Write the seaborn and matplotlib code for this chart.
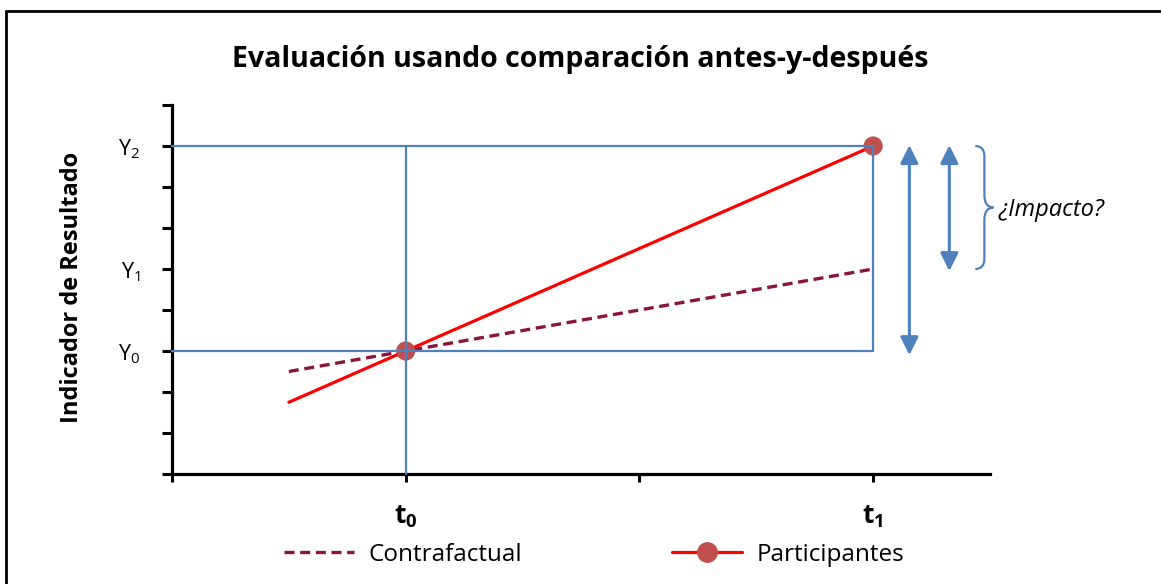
import numpy as np
import pandas as pd
import matplotlib
matplotlib.use("Agg")
import matplotlib.pyplot as plt
import seaborn as sns
from matplotlib.lines import Line2D
from matplotlib.path import Path
from matplotlib.patches import PathPatch

# ---- data ----
cf_x = [0.5, 3.0]
cf_y = [2.5, 5.0]
part_x = [0.5, 1.0, 3.0]
part_y = [1.75, 3.0, 8.0]
mark_x = [1.0, 3.0]
mark_y = [3.0, 8.0]
y_ticks = [0, 1, 2, 3, 4, 5, 6, 7, 8, 9]
y_labels = ["", "", "", r"Y$_\mathrm{0}$", "", r"Y$_\mathrm{1}$", "", "", r"Y$_\mathrm{2}$", ""]
x_ticks = [0, 1, 2, 3]
x_labels = ["", r"$\mathbf{t_0}$", "", r"$\mathbf{t_1}$"]
Y0, Y1, Y2 = 3.0, 5.0, 8.0
T0, T1 = 1.0, 3.0

FONT = "Open Sans"
sns.set_theme(style="white")
plt.rcParams["font.family"] = [FONT, "DejaVu Sans"]
plt.rcParams["mathtext.fontset"] = "custom"
plt.rcParams["mathtext.rm"] = FONT
plt.rcParams["mathtext.it"] = FONT + ":italic"
plt.rcParams["mathtext.bf"] = FONT + ":bold"
for k in ["text.color", "axes.labelcolor", "xtick.color", "ytick.color"]:
    plt.rcParams[k] = "black"

BLUE = "#4F81BD"
RED = "#FF0000"
DRED = "#8B1538"
MCOL = "#C0504D"
DASH = (0, (3.0, 1.7))

fig = plt.figure(figsize=(11.61, 5.84), dpi=100)
ax = fig.add_axes([172/1161, 1-474/584, (990-172)/1161, (474-105)/584])

df_cf = pd.DataFrame({"x": cf_x, "y": cf_y})
df_p = pd.DataFrame({"x": part_x, "y": part_y})
sns.lineplot(data=df_cf, x="x", y="y", ax=ax, color=DRED, lw=2.4, linestyle=DASH, zorder=3)
sns.lineplot(data=df_p, x="x", y="y", ax=ax, color=RED, lw=2.3, zorder=3)
sns.scatterplot(x=mark_x, y=mark_y, ax=ax, color=MCOL, s=190, edgecolor="none", zorder=4)

# blue guide lines
ax.plot([0, T1], [Y2, Y2], color=BLUE, lw=1.6, zorder=5, clip_on=False)
ax.plot([0, T1], [Y0, Y0], color=BLUE, lw=1.6, zorder=5, clip_on=False)
ax.plot([T0, T0], [0, Y2], color=BLUE, lw=1.6, zorder=5, clip_on=False)
ax.plot([T1, T1], [Y0, Y2], color=BLUE, lw=1.6, zorder=5, clip_on=False)

# double arrows
arrow_kw = dict(arrowstyle="<|-|>,head_length=0.9,head_width=0.45", color=BLUE, lw=2.2,
                shrinkA=0, shrinkB=0)
ax.annotate("", xy=(3.155, Y2 + 0.02), xytext=(3.155, Y0 - 0.1), arrowprops=arrow_kw,
            annotation_clip=False)
ax.annotate("", xy=(3.326, Y2 + 0.02), xytext=(3.326, Y1 - 0.05), arrowprops=arrow_kw,
            annotation_clip=False)

# brace
bx0, bx1, bx2 = 3.437, 3.476, 3.515
ym = (Y2 + Y1) / 2
verts = [(bx0, Y2), (bx1, Y2), (bx1, Y2 - 0.25), (bx1, Y2 - 0.3),
         (bx1, ym + 0.3), (bx1, ym), (bx2, ym),
         (bx1, ym), (bx1, ym - 0.3), (bx1, Y1 + 0.3),
         (bx1, Y1 + 0.25), (bx1, Y1), (bx0, Y1)]
codes = [Path.MOVETO, Path.CURVE3, Path.CURVE3, Path.LINETO,
         Path.LINETO, Path.CURVE3, Path.CURVE3,
         Path.CURVE3, Path.CURVE3, Path.LINETO,
         Path.LINETO, Path.CURVE3, Path.CURVE3]
ax.add_patch(PathPatch(Path(verts, codes), fill=False, edgecolor=BLUE, lw=1.6, clip_on=False))
ax.text(3.535, 6.45, "¿Impacto?", style="italic", fontsize=17, ha="left", va="center",
        color="black")

ax.set_xlim(0, 3.5)
ax.set_ylim(0, 9)
ax.set_xticks(x_ticks)
ax.set_xticklabels(x_labels, fontsize=19)
ax.set_yticks(y_ticks)
ax.set_yticklabels(y_labels, fontsize=15.5)
ax.set_xlabel("")
ax.set_ylabel("")
for s in ["top", "right"]:
    ax.spines[s].set_visible(False)
for s in ["left", "bottom"]:
    ax.spines[s].set_color("black")
    ax.spines[s].set_linewidth(2.3)
ax.tick_params(axis="y", direction="out", length=7, width=2.2, color="black", pad=16, left=True)
ax.tick_params(axis="x", direction="out", length=6, width=2.2, color="black", pad=15, bottom=True)

fig.text(0.5, 1-59/584, "Evaluación usando comparación antes-y-después", ha="center", va="center",
         fontsize=20.5, fontweight="bold")
fig.text(72/1161, 1-287/584, "Indicador de Resultado", ha="center", va="center",
         rotation=90, fontsize=17, fontweight="bold")

handles = [Line2D([], [], color=DRED, lw=2.4, linestyle=DASH),
           Line2D([], [], color=RED, lw=2.3, marker="o", markersize=14,
                  markerfacecolor=MCOL, markeredgecolor=MCOL)]
fig.legend(handles, ["Contrafactual", "Participantes"], loc="center",
           bbox_to_anchor=(594/1161, 1-555/584), ncol=2, frameon=False, fontsize=17.5,
           columnspacing=6.15, handlelength=2.9, handletextpad=0.6)

# figure border (top and left visible)
fig.add_artist(Line2D([6/1161, 6/1161], [0, 1-11/584], color="black", lw=2, transform=fig.transFigure))
fig.add_artist(Line2D([6/1161, 1], [1-11/584, 1-11/584], color="black", lw=2, transform=fig.transFigure))

fig.savefig("out.png", dpi=100)
